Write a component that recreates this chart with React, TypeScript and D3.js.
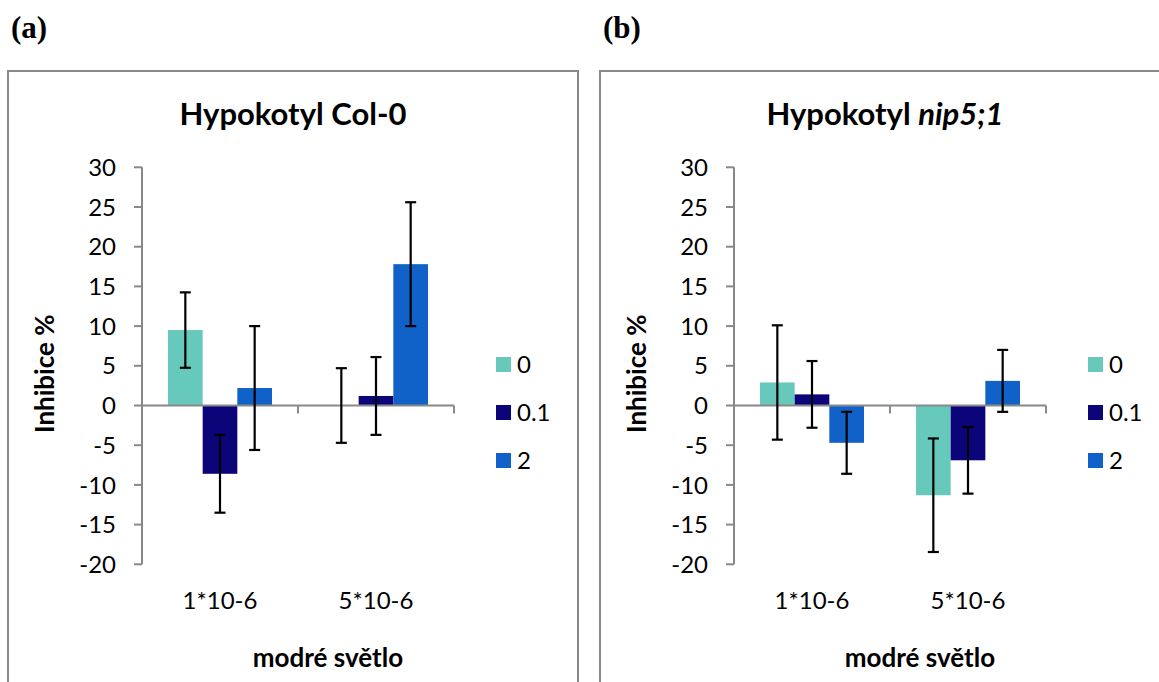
import React from "react";
import { scaleLinear, scaleBand, range } from "d3";

// categories on the x axis and the three series (legend)
const categories = ["1*10-6", "5*10-6"];
const seriesNames = ["0", "0.1", "2"];
const seriesColors = ["#66c9bc", "#0c0579", "#1062c8"];

// values per series, one number per category
const colValues = [
  [9.5, 0],
  [-8.6, 1.2],
  [2.2, 17.8],
];
const colErrors = [
  [4.75, 4.7],
  [4.9, 4.9],
  [7.8, 7.8],
];

const nipValues = [
  [2.9, -11.3],
  [1.4, -6.9],
  [-4.7, 3.1],
];
const nipErrors = [
  [7.2, 7.15],
  [4.2, 4.2],
  [3.9, 3.9],
];

const yTicks = range(-20, 31, 5);

const FONT = "Lato, 'Open Sans', sans-serif";
const AXIS = "#898989";

type PanelProps = {
  x: number;
  label: string;
  title: React.ReactNode;
  values: number[][];
  errors: number[][];
};

const Panel = ({ x, label, title, values, errors }: PanelProps) => {
  const plotLeft = x + 134;
  const plotW = 312;
  const top = 167.3;
  const bottom = 564.3;

  const y = scaleLinear().domain([-20, 30]).range([bottom, top]);
  const x0 = scaleBand().domain(categories).range([0, plotW]);
  const bw = x0.bandwidth() / 4.5;
  const x1 = scaleBand()
    .domain(seriesNames)
    .range([0.75 * bw, 3.75 * bw]);

  return (
    <g>
      <text
        x={x + 3}
        y={38}
        fontFamily="'Liberation Serif', 'Times New Roman', serif"
        fontWeight="bold"
        fontSize={31}
      >
        {label}
      </text>
      <rect
        x={x}
        y={71}
        width={570}
        height={640}
        fill="none"
        stroke={AXIS}
        strokeWidth={2}
      />
      <text
        x={x + 285}
        y={125}
        textAnchor="middle"
        fontFamily={FONT}
        fontWeight="bold"
        fontSize={31}
      >
        {title}
      </text>

      <g transform={`translate(${plotLeft},0)`}>
        {/* bars */}
        {values.map((row, si) =>
          row.map((v, ci) => {
            const bx = (x0(categories[ci]) as number) + (x1(seriesNames[si]) as number);
            return (
              <rect
                key={`b${si}-${ci}`}
                x={bx}
                y={Math.min(y(v), y(0))}
                width={x1.bandwidth()}
                height={Math.abs(y(v) - y(0))}
                fill={seriesColors[si]}
              />
            );
          })
        )}

        {/* zero line + category ticks */}
        <line x1={0} x2={plotW} y1={y(0)} y2={y(0)} stroke={AXIS} strokeWidth={2} />
        {categories.map((c) => {
          const tx = (x0(c) as number) + x0.bandwidth();
          return (
            <line key={c} x1={tx} x2={tx} y1={y(0)} y2={y(0) + 8} stroke={AXIS} strokeWidth={2} />
          );
        })}

        {/* y axis */}
        <line x1={0} x2={0} y1={top} y2={bottom} stroke={AXIS} strokeWidth={2} />
        {yTicks.map((t) => (
          <g key={t}>
            <line x1={-8} x2={0} y1={y(t)} y2={y(t)} stroke={AXIS} strokeWidth={2} />
            <text
              x={-26}
              y={y(t)}
              dy="0.36em"
              textAnchor="end"
              fontFamily={FONT}
              fontSize={24}
            >
              {t}
            </text>
          </g>
        ))}

        {/* error bars */}
        {values.map((row, si) =>
          row.map((v, ci) => {
            const cx =
              (x0(categories[ci]) as number) +
              (x1(seriesNames[si]) as number) +
              x1.bandwidth() / 2;
            const e = errors[si][ci];
            return (
              <g key={`e${si}-${ci}`} stroke="#000" strokeWidth={2.2}>
                <line x1={cx} x2={cx} y1={y(v + e)} y2={y(v - e)} />
                <line x1={cx - 5.5} x2={cx + 5.5} y1={y(v + e)} y2={y(v + e)} />
                <line x1={cx - 5.5} x2={cx + 5.5} y1={y(v - e)} y2={y(v - e)} />
              </g>
            );
          })
        )}

        {/* category labels */}
        {categories.map((c) => (
          <text
            key={c}
            x={(x0(c) as number) + x0.bandwidth() / 2}
            y={609}
            textAnchor="middle"
            fontFamily={FONT}
            fontSize={24}
          >
            {c}
          </text>
        ))}

        <text
          x={plotW / 2 + 30}
          y={667}
          textAnchor="middle"
          fontFamily={FONT}
          fontWeight="bold"
          fontSize={26}
        >
          modré světlo
        </text>

        <text
          transform={`translate(${-97},${(top + bottom) / 2 + 8}) rotate(-90)`}
          textAnchor="middle"
          dy="0.35em"
          fontFamily={FONT}
          fontWeight="bold"
          fontSize={26}
        >
          Inhibice %
        </text>

        {/* legend */}
        {seriesNames.map((s, i) => (
          <g key={s} transform={`translate(354,${357 + i * 48})`}>
            <rect width={15} height={15} fill={seriesColors[i]} />
            <text x={21} y={7.5} dy="0.36em" fontFamily={FONT} fontSize={24}>
              {s}
            </text>
          </g>
        ))}
      </g>
    </g>
  );
};

const App = () => {
  return (
    <svg
      width={1159}
      height={682}
      style={{ position: "absolute", left: 0, top: 0, background: "#fff" }}
    >
      <rect width={1159} height={682} fill="#fff" />
      <Panel
        x={8}
        label="(a)"
        title="Hypokotyl Col-0"
        values={colValues}
        errors={colErrors}
      />
      <Panel
        x={600}
        label="(b)"
        title={
          <>
            Hypokotyl <tspan fontStyle="italic">nip5;1</tspan>
          </>
        }
        values={nipValues}
        errors={nipErrors}
      />
    </svg>
  );
};

export default App;
